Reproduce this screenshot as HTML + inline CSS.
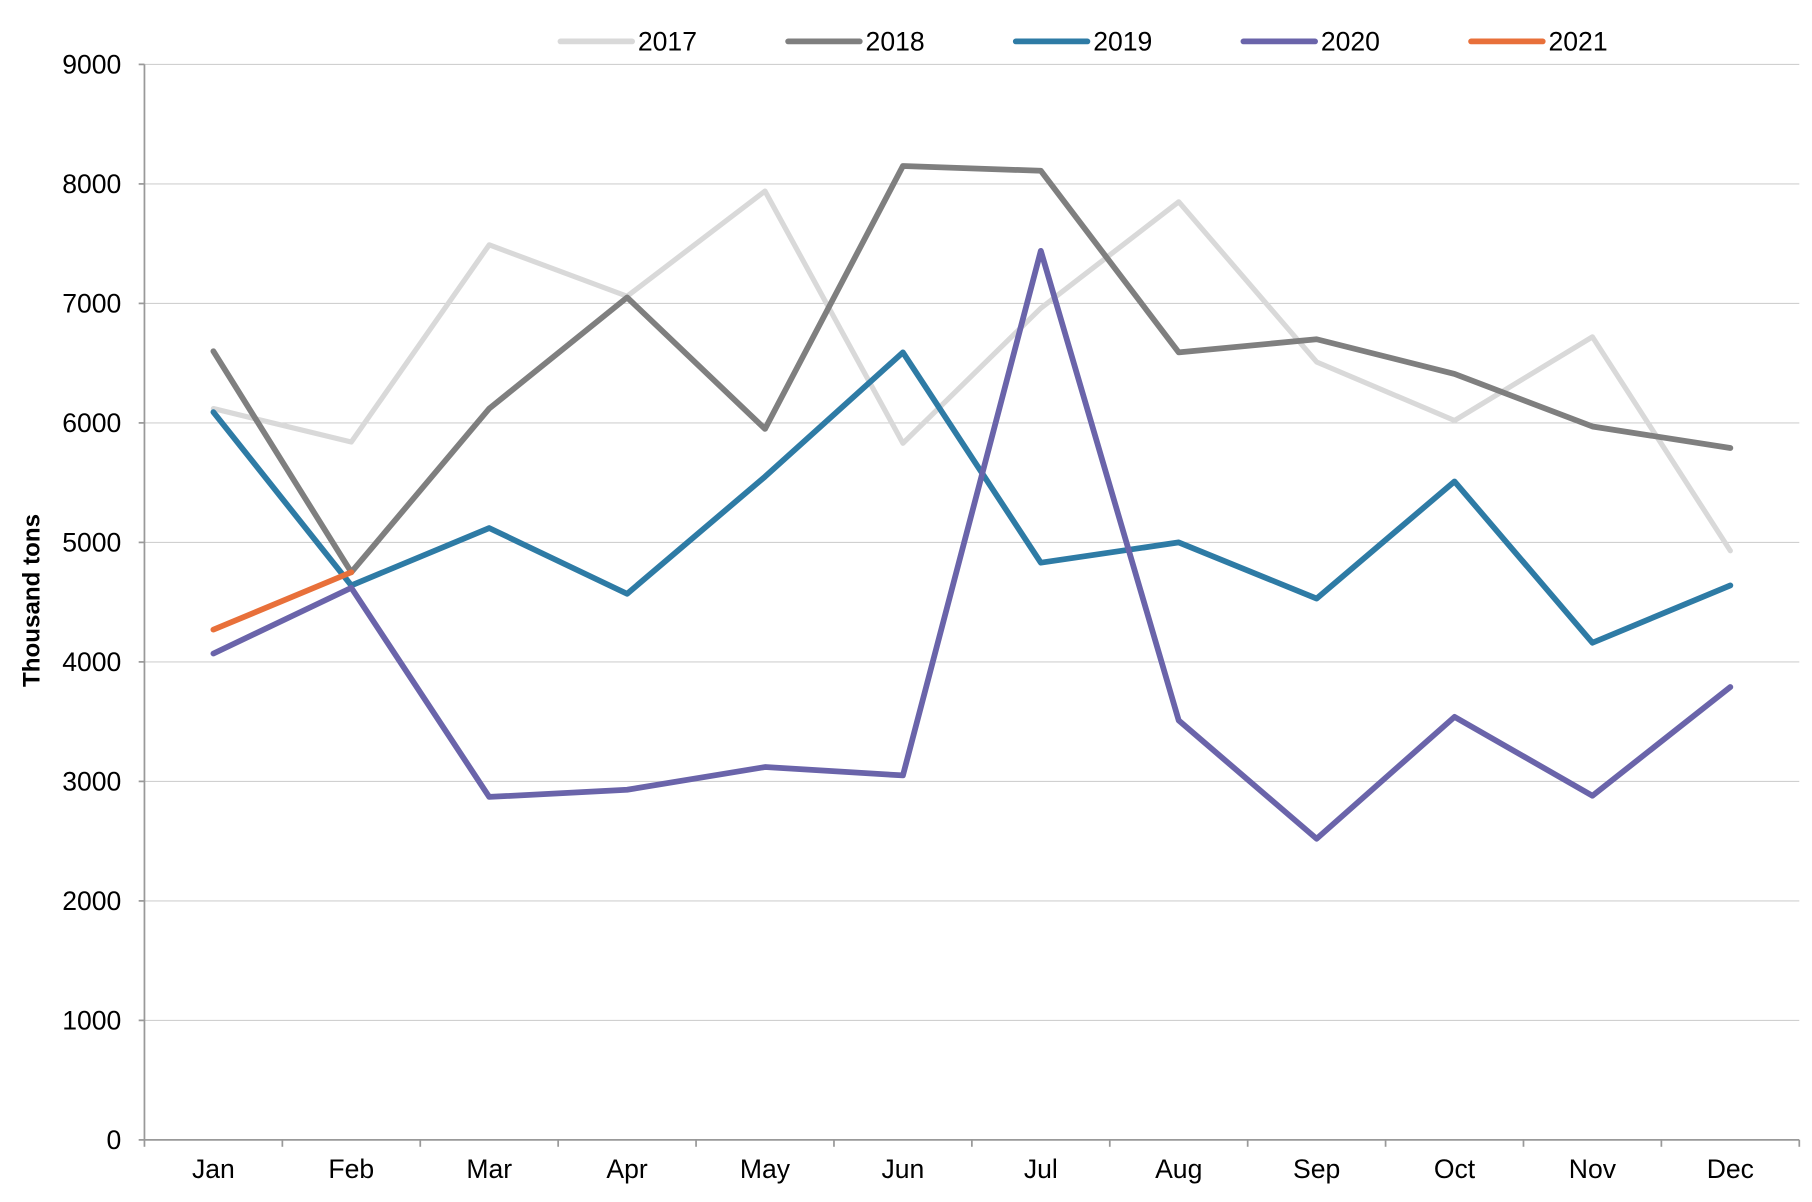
<!DOCTYPE html>
<html><head><meta charset="utf-8"><style>
html,body{margin:0;padding:0;background:#fff;}
svg{display:block;font-family:"Liberation Sans",sans-serif;}
</style></head><body>
<svg id="chart" width="1812" height="1202" viewBox="0 0 1568 1045" preserveAspectRatio="none">
<g id="grid"></g>
<g id="axes"></g>
<g id="series"></g>
<g id="legend"></g>
<text transform="translate(34,522) rotate(-90)" text-anchor="middle" font-size="21" font-weight="bold" fill="#000">Thousand tons</text>
</svg>
<script>
const months = ["Jan","Feb","Mar","Apr","May","Jun","Jul","Aug","Sep","Oct","Nov","Dec"];
const yTicks = [0,1000,2000,3000,4000,5000,6000,7000,8000,9000];
const seriesNames = ["2017","2018","2019","2020","2021"];
const s2017 = [6120,5840,7490,7060,7940,5830,6960,7850,6510,6020,6720,4930];
const s2018 = [6600,4750,6120,7050,5950,8150,8110,6590,6700,6410,5970,5790];
const s2019 = [6090,4640,5120,4570,5550,6590,4830,5000,4530,5510,4160,4640];
const s2020 = [4070,4620,2870,2930,3120,3050,7440,3510,2520,3540,2880,3790];
const s2021 = [4270,4750];
const colors = ["#d9d9d9","#7f7f7f","#2e7ba5","#6a64aa","#e8703a"];
const allSeries = [s2017,s2018,s2019,s2020,s2021];

const NS="http://www.w3.org/2000/svg";
const pL=125,pR=1557,pT=56,pB=991,yMax=9000;
const band=(pR-pL)/months.length;
function xs(i){return pL+band*(i+0.5);}
function ys(v){return pB-(v/yMax)*(pB-pT);}
function mk(tag,attrs,parent){const e=document.createElementNS(NS,tag);for(const k in attrs)e.setAttribute(k,attrs[k]);parent.appendChild(e);return e;}

const grid=document.getElementById('grid'),axes=document.getElementById('axes'),ser=document.getElementById('series'),leg=document.getElementById('legend');
yTicks.forEach(t=>{
  if(t>0){const g=mk('line',{x1:pL,x2:pR,y1:ys(t),y2:ys(t),stroke:'#d0d0d0','stroke-width':1},grid);
  
  }
  const tk=mk('line',{x1:pL-5,x2:pL,y1:ys(t),y2:ys(t),stroke:'#999','stroke-width':1.5},axes);
  
  
  const lb=mk('text',{x:105,y:ys(t)+8,'text-anchor':'end','font-size':23,fill:'#000'},axes);
  lb.textContent=t;
  
  
});
const ya=mk('line',{x1:pL,x2:pL,y1:pT,y2:pB,stroke:'#999','stroke-width':1.5},axes);


const xa=mk('line',{x1:pL,x2:pR,y1:pB,y2:pB,stroke:'#999','stroke-width':1.5},axes);


for(let i=0;i<=months.length;i++){
  const tk=mk('line',{x1:pL+band*i,x2:pL+band*i,y1:pB,y2:pB+6,stroke:'#999','stroke-width':1.5},axes);
  
  
}
months.forEach((m,i)=>{
  const lb=mk('text',{x:xs(i),y:1024,'text-anchor':'middle','font-size':23,fill:'#000'},axes);
  lb.textContent=m;
  
  
});
allSeries.forEach((s,k)=>{
  const pts=s.map((v,i)=>xs(i)+','+ys(v)).join(' ');
  const p=mk('polyline',{points:pts,fill:'none',stroke:colors[k],'stroke-width':k===0?4.5:5,'stroke-linejoin':'round','stroke-linecap':'round'},ser);
  
  
});
seriesNames.forEach((n,k)=>{
  const lx=485+k*197;
  const l=mk('line',{x1:lx,x2:lx+62,y1:36,y2:36,stroke:colors[k],'stroke-width':5,'stroke-linecap':'round'},leg);
  
  
  const t=mk('text',{x:lx+67,y:44,'font-size':23,fill:'#000'},leg);
  t.textContent=n;
  
  
});
</script>
</body></html>
